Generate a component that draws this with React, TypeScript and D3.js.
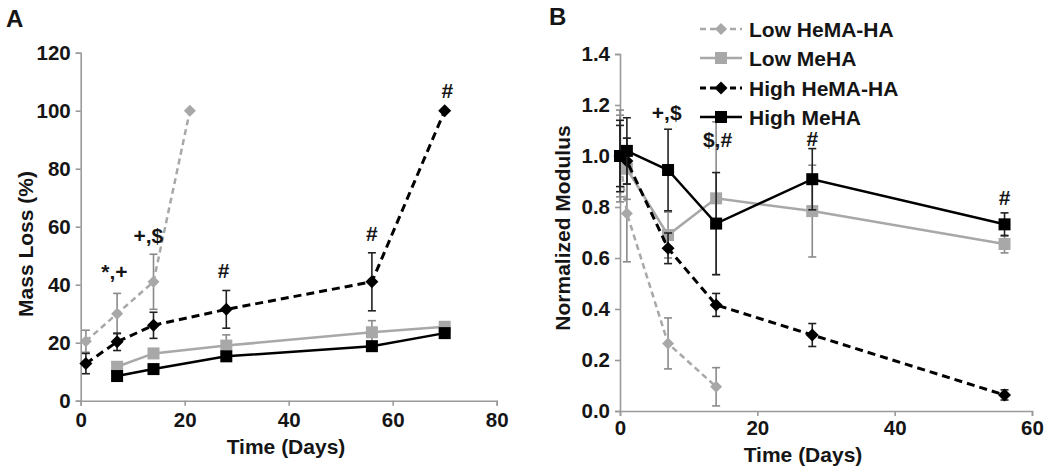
import React, { useEffect, useRef } from "react";
import * as d3 from "d3";

// ---------- Panel A: Mass Loss (%) ----------
const aLowHemaDays = [1, 7, 14, 21];
const aLowHemaVals = [20.5, 30, 41, 100];
const aLowHemaErr = [3.8, 7, 9.5, 0];

const aLowMehaDays = [7, 14, 28, 56, 70];
const aLowMehaVals = [11.7, 16.3, 19, 23.6, 25.5];
const aLowMehaErr = [1, 1, 3.7, 4, 0.8];

const aHighHemaDays = [1, 7, 14, 28, 56, 70];
const aHighHemaVals = [12.8, 20.3, 26, 31.5, 41, 100];
const aHighHemaErr = [3.5, 3, 4.5, 6.5, 10, 0];

const aHighMehaDays = [7, 14, 28, 56, 70];
const aHighMehaVals = [8.5, 10.9, 15.3, 18.8, 23.3];
const aHighMehaErr = [0.8, 0.8, 1, 1, 1];

const aXTicks = [0, 20, 40, 60, 80];
const aYTicks = [0, 20, 40, 60, 80, 100, 120];

const aNotes = [
  { label: "*,+", day: 6.5, value: 44.5 },
  { label: "+,$", day: 13, value: 57 },
  { label: "#", day: 27.5, value: 45 },
  { label: "#", day: 56, value: 57.8 },
  { label: "#", day: 70.5, value: 107 },
];

// ---------- Panel B: Normalized Modulus ----------
const bLowHemaDays = [0, 1, 7, 14];
const bLowHemaVals = [1.0, 0.775, 0.265, 0.095];
const bLowHemaErr = [0.18, 0.19, 0.1, 0.075];

const bLowMehaDays = [0, 1, 7, 14, 28, 56];
const bLowMehaVals = [1.0, 0.95, 0.69, 0.834, 0.784, 0.655];
const bLowMehaErr = [0.16, 0.12, 0.09, 0.3, 0.18, 0.035];

const bHighHemaDays = [0, 1, 7, 14, 28, 56];
const bHighHemaVals = [1.0, 0.98, 0.638, 0.416, 0.298, 0.063];
const bHighHemaErr = [0.14, 0.09, 0.06, 0.045, 0.045, 0.02];

const bHighMehaDays = [0, 1, 7, 14, 28, 56];
const bHighMehaVals = [1.0, 1.02, 0.945, 0.735, 0.909, 0.732];
const bHighMehaErr = [0.12, 0.13, 0.16, 0.2, 0.12, 0.045];

const bXTicks = [0, 20, 40, 60];
const bYTicks = [0, 0.2, 0.4, 0.6, 0.8, 1.0, 1.2, 1.4];

const bNotes = [
  { label: "+,$", day: 6.8, value: 1.17 },
  { label: "$,#", day: 14.2, value: 1.065 },
  { label: "#", day: 28, value: 1.07 },
  { label: "#", day: 56, value: 0.837 },
];

const seriesNames = ["Low HeMA-HA", "Low MeHA", "High HeMA-HA", "High MeHA"];

const GRAY = "#a8a8a8";
const GRAY_ERR = "#8a8a8a";
const BLACK = "#000";
const TEXT = "#151515";
const AXIS = "#9a9a9a";
const FONT = "'Liberation Sans', Arial, Helvetica, sans-serif";

type Style = { color: string; err: string; dashed: boolean; marker: "diamond" | "square"; width: number };
const styles: Style[] = [
  { color: GRAY, err: GRAY_ERR, dashed: true, marker: "diamond", width: 2.5 },
  { color: GRAY, err: GRAY_ERR, dashed: false, marker: "square", width: 2.5 },
  { color: BLACK, err: "#222", dashed: true, marker: "diamond", width: 3 },
  { color: BLACK, err: "#222", dashed: false, marker: "square", width: 2.5 },
];

type Series = { days: number[]; vals: number[]; err: number[] };

function drawPanel(
  g: d3.Selection<SVGGElement, unknown, null, undefined>,
  x: d3.ScaleLinear<number, number>,
  y: d3.ScaleLinear<number, number>,
  series: Series[],
  xTicks: number[],
  yTicks: number[],
  yFmt: (v: number) => string,
  xPad: number,
  yPad: number
) {
  const xAxis = d3.axisBottom(x).tickValues(xTicks).tickSize(5).tickSizeOuter(5).tickPadding(xPad).tickFormat((d) => String(d));
  const yAxis = d3.axisLeft(y).tickValues(yTicks).tickSize(5).tickSizeOuter(5).tickPadding(yPad).tickFormat((d) => yFmt(d as number));
  const gx = g.append("g").attr("transform", `translate(0,${y.range()[0]})`).call(xAxis);
  const gy = g.append("g").attr("transform", `translate(${x.range()[0]},0)`).call(yAxis);
  [gx, gy].forEach((ax) => {
    ax.select(".domain").attr("stroke", AXIS).attr("stroke-width", 1.6);
    ax.selectAll(".tick line").attr("stroke", AXIS).attr("stroke-width", 1.6);
    ax.selectAll(".tick text")
      .attr("fill", TEXT)
      .style("font-family", FONT)
      .style("font-weight", "bold")
      .style("font-size", "20.5px");
  });

  series.forEach((s, i) => {
    const st = styles[i];
    const pts = s.days.map((d, k) => ({ d, v: s.vals[k], e: s.err[k] }));
    const eg = g.append("g");
    pts.forEach((p) => {
      if (p.e <= 0) return;
      const cx = x(p.d);
      eg.append("line").attr("x1", cx).attr("x2", cx).attr("y1", y(p.v + p.e)).attr("y2", y(p.v - p.e))
        .attr("stroke", st.err).attr("stroke-width", 1.6);
      [p.v + p.e, p.v - p.e].forEach((v) => {
        eg.append("line").attr("x1", cx - 4).attr("x2", cx + 4).attr("y1", y(v)).attr("y2", y(v))
          .attr("stroke", st.err).attr("stroke-width", 1.6);
      });
    });
    const line = d3.line<{ d: number; v: number }>().x((p) => x(p.d)).y((p) => y(p.v));
    g.append("path").datum(pts).attr("d", line).attr("fill", "none")
      .attr("stroke", st.color).attr("stroke-width", st.width)
      .attr("stroke-dasharray", st.dashed ? (st.color === BLACK ? "8,5" : "6,4") : null);
    pts.forEach((p) => drawMarker(g, x(p.d), y(p.v), st));
  });
}

function drawMarker(g: d3.Selection<SVGGElement, unknown, null, undefined>, cx: number, cy: number, st: Style) {
  if (st.marker === "square") {
    const s = 12;
    g.append("rect").attr("x", cx - s / 2).attr("y", cy - s / 2).attr("width", s).attr("height", s).attr("fill", st.color);
  } else {
    const r = st.color === BLACK ? 6.5 : 6;
    g.append("path").attr("d", `M${cx},${cy - r}L${cx + r},${cy}L${cx},${cy + r}L${cx - r},${cy}Z`).attr("fill", st.color);
  }
}

function addText(g: d3.Selection<SVGGElement, unknown, null, undefined>, txt: string, x: number, y: number, size: number, anchor = "middle", rotate = false) {
  const t = g.append("text").text(txt).attr("fill", TEXT)
    .style("font-family", FONT).style("font-weight", "bold").style("font-size", `${size}px`)
    .attr("text-anchor", anchor);
  if (rotate) t.attr("transform", `translate(${x},${y}) rotate(-90)`);
  else t.attr("x", x).attr("y", y);
  return t;
}

export default function App() {
  const ref = useRef<SVGSVGElement>(null);
  useEffect(() => {
    const svg = d3.select(ref.current);
    svg.selectAll("*").remove();
    const root = svg.append("g");

    // Panel A
    const gA = root.append("g");
    const xA = d3.scaleLinear().domain([0, 80]).range([80.7, 496.7]);
    const yA = d3.scaleLinear().domain([0, 120]).range([400.7, 52.7]);
    drawPanel(
      gA, xA, yA,
      [
        { days: aLowHemaDays, vals: aLowHemaVals, err: aLowHemaErr },
        { days: aLowMehaDays, vals: aLowMehaVals, err: aLowMehaErr },
        { days: aHighHemaDays, vals: aHighHemaVals, err: aHighHemaErr },
        { days: aHighMehaDays, vals: aHighMehaVals, err: aHighMehaErr },
      ],
      aXTicks, aYTicks, (v) => String(v), 7, 5
    );
    aNotes.forEach((n) => addText(gA, n.label, xA(n.day), yA(n.value) + 7.5, 21));
    addText(gA, "Mass Loss (%)", 33, 244, 21, "middle", true);
    addText(gA, "Time (Days)", 286, 454, 21);
    addText(gA, "A", 6, 27, 24, "start");

    // Panel B
    const gB = root.append("g");
    const xB = d3.scaleLinear().domain([0, 60]).range([620, 1032]);
    const yB = d3.scaleLinear().domain([0, 1.4]).range([411, 54]);
    drawPanel(
      gB, xB, yB,
      [
        { days: bLowHemaDays, vals: bLowHemaVals, err: bLowHemaErr },
        { days: bLowMehaDays, vals: bLowMehaVals, err: bLowMehaErr },
        { days: bHighHemaDays, vals: bHighHemaVals, err: bHighHemaErr },
        { days: bHighMehaDays, vals: bHighMehaVals, err: bHighMehaErr },
      ],
      bXTicks, bYTicks, d3.format(".1f"), 4, 5
    );
    bNotes.forEach((n) => addText(gB, n.label, xB(n.day), yB(n.value) + 7.5, 21));
    addText(gB, "Normalized Modulus", 570, 228, 21, "middle", true);
    addText(gB, "Time (Days)", 803, 461.5, 21);
    addText(gB, "B", 549, 25, 24, "start");

    // Legend
    const legRows = [29, 58, 88, 117];
    seriesNames.forEach((name, i) => {
      const st = styles[i];
      const cy = legRows[i];
      gB.append("line").attr("x1", 700).attr("x2", 742).attr("y1", cy).attr("y2", cy)
        .attr("stroke", st.color).attr("stroke-width", st.width)
        .attr("stroke-dasharray", st.dashed ? "6,4" : null);
      drawMarker(gB, 721, cy, st);
      addText(gB, name, 749, cy + 7.5, 21, "start");
    });
  }, []);

  return (
    <svg
      ref={ref}
      width={1050}
      height={472}
      style={{ position: "absolute", left: 0, top: 0, display: "block", background: "#fff" }}
    />
  );
}
